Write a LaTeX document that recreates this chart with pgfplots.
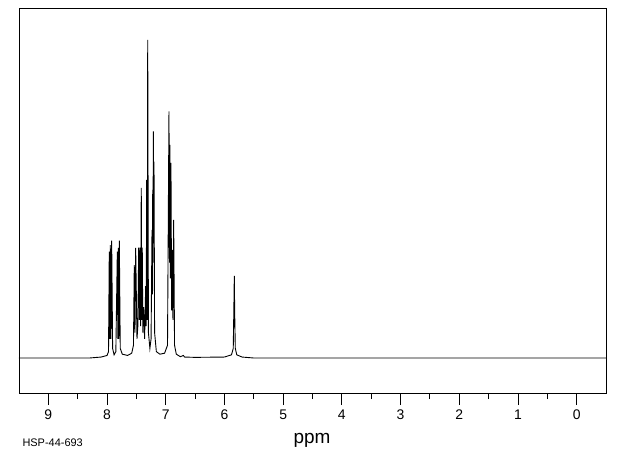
\documentclass[border=0pt]{standalone}
\usepackage{fontspec}
\setmainfont{Liberation Sans}
\usepackage{pgfplots}
\pgfplotsset{compat=1.18}

\begin{document}
\begin{tikzpicture}
  \begin{axis}[
      at={(19bp,62bp)}, anchor=south west,
      scale only axis, width=587bp, height=385bp,
      xmin=-0.5, xmax=9.5, x dir=reverse,
      ymin=-11, ymax=110,
      xtick={0,1,...,9}, minor x tick num=1,
      ytick=\empty,
      xtick pos=bottom, tick align=outside,
      major tick length=12bp, minor tick length=6bp,
      every tick/.style={black, line width=0.8bp},
      axis line style={line width=0.8bp},
      clip=false,
      /pgf/number format/assume math mode=true,
      xticklabel style={font=\fontsize{14}{14}\selectfont, anchor=center, yshift=-10bp},
    ]
    \addplot[black, line width=0.9bp] coordinates {
      (9.5,0) (8.3,0) (8.1,0.3) (8.0,0.8) (7.975,2)
      (7.962,33.4) (7.953,6) (7.945,35.5) (7.933,6) (7.921,36.9) (7.905,3)
      (7.88,1.0) (7.85,2)
      (7.825,33.4) (7.816,6) (7.808,34.6) (7.800,6) (7.791,36.9) (7.775,3)
      (7.74,1.2) (7.65,0.8) (7.58,1.5) (7.55,4)
      (7.536,29.2) (7.524,8) (7.512,34.6) (7.49,6) (7.475,10)
      (7.461,34.7) (7.450,12) (7.439,34.7) (7.428,10) (7.417,53.5) (7.408,12)
      (7.400,34.7) (7.39,8) (7.378,16) (7.36,6)
      (7.342,22.6) (7.333,10) (7.325,56) (7.316,12) (7.307,100) (7.295,8)
      (7.27,3) (7.25,6)
      (7.234,40.3) (7.228,20) (7.222,52.8) (7.217,30) (7.212,71.2) (7.206,40)
      (7.200,61.7) (7.19,8) (7.16,2) (7.10,1.2) (7.02,1.5) (6.97,4)
      (6.945,77.5) (6.936,30) (6.928,67) (6.920,25) (6.911,61.3) (6.900,15)
      (6.888,34) (6.877,12) (6.865,43.4) (6.85,4) (6.82,1.2)
      (6.75,0.4) (6.70,0.8) (6.68,0.3) (6.5,0.2) (6.0,0.3)
      (5.88,1) (5.85,3) (5.840,15) (5.832,25.8) (5.826,15) (5.815,3) (5.79,1)
      (5.70,0.3) (5.5,0) (-0.5,0)
    };
  \end{axis}
  \node[font=\fontsize{19}{19}\selectfont] at (312bp,15bp) {ppm};
  \node[font=\fontsize{11}{11}\selectfont, anchor=west] at (19bp,12bp) {HSP-44-693};
  \pgfresetboundingbox
  \path (0,0) rectangle (620bp,455bp);
\end{tikzpicture}
\end{document}
